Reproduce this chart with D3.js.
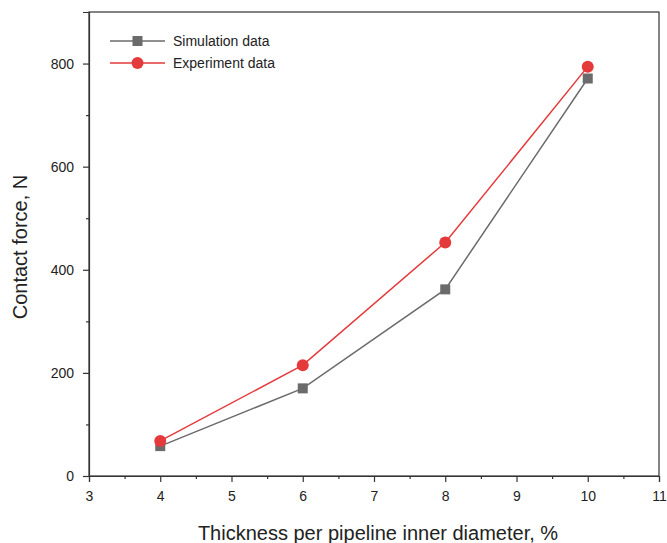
<!DOCTYPE html>
<html>
<head>
<meta charset="utf-8">
<script src="https://cdn.jsdelivr.net/npm/d3@7"></script>
<style>
  body { margin: 0; background: #fff; }
  text { font-family: "Liberation Sans", Arial, sans-serif; fill: #222; }
</style>
</head>
<body>
<div id="chart"></div>
<script>
// data
var thickness = [4, 6, 8, 10];
var simulation = [58, 170, 362, 771];
var experiment = [68, 215, 453, 794];
var xTicks = [3, 4, 5, 6, 7, 8, 9, 10, 11];
var yTicks = [0, 200, 400, 600, 800];

var svgWidth = 667, svgHeight = 543;
var margin = { top: 12, right: 7, bottom: 67, left: 89 };
var width = 659 - margin.left;
var height = 476 - margin.top;

var svg = d3.select("#chart").append("svg").attr("width", svgWidth).attr("height", svgHeight);
var g = svg.append("g").attr("transform", `translate(${margin.left}, ${margin.top})`);

var x = d3.scaleLinear().domain([3, 11]).range([0, width]);
var y = d3.scaleLinear().domain([0, 900]).range([height, 0]);

// frame
g.append("rect").attr("width", width).attr("height", height)
  .attr("fill", "none").attr("stroke", "#333").attr("stroke-width", 1.2);

// minor ticks
var xMinor = d3.range(3.5, 11, 1);
var yMinor = d3.range(100, 900, 200);

var xAxis = g.append("g").attr("transform", `translate(0, ${height})`)
  .call(d3.axisBottom(x).tickValues(xTicks).tickSize(6).tickPadding(9).tickFormat(d3.format("d")));
g.append("g").attr("transform", `translate(0, ${height})`)
  .call(d3.axisBottom(x).tickValues(xMinor).tickSize(3).tickFormat(""))
  .select(".domain").remove();

var yAxis = g.append("g")
  .call(d3.axisLeft(y).tickValues(yTicks).tickSize(6).tickPadding(9));
g.append("g")
  .call(d3.axisLeft(y).tickValues(yMinor).tickSize(3).tickFormat(""))
  .select(".domain").remove();

svg.selectAll(".tick text").style("font-size", "14px").style("font-family", "Liberation Sans, Arial, sans-serif").attr("fill", "#222");
svg.selectAll(".domain, .tick line").attr("stroke", "#333").attr("stroke-width", 1.2);

// axis titles
svg.append("text").attr("x", 378).attr("y", 540).attr("text-anchor", "middle")
  .style("font-size", "20px").text("Thickness per pipeline inner diameter, %");
svg.append("text").attr("transform", "translate(27, 247) rotate(-90)").attr("text-anchor", "middle")
  .style("font-size", "20px").text("Contact force, N");

var simColor = "#6b6b6b", expColor = "#e53a3c";
var line = d3.line().x(d => x(d[0])).y(d => y(d[1]));
var simPts = thickness.map((t, i) => [t, simulation[i]]);
var expPts = thickness.map((t, i) => [t, experiment[i]]);

g.append("path").datum(simPts).attr("d", line).attr("fill", "none").attr("stroke", simColor).attr("stroke-width", 1.5);
g.selectAll("rect.sim").data(simPts).enter().append("rect").attr("class", "sim")
  .attr("x", d => x(d[0]) - 5).attr("y", d => y(d[1]) - 5).attr("width", 10).attr("height", 10).attr("fill", simColor);

g.append("path").datum(expPts).attr("d", line).attr("fill", "none").attr("stroke", expColor).attr("stroke-width", 1.5);
g.selectAll("circle.exp").data(expPts).enter().append("circle").attr("class", "exp")
  .attr("cx", d => x(d[0])).attr("cy", d => y(d[1])).attr("r", 6).attr("fill", expColor);

// legend
var legend = svg.append("g");
legend.append("line").attr("x1", 110).attr("x2", 165).attr("y1", 41).attr("y2", 41).attr("stroke", simColor).attr("stroke-width", 1.5);
legend.append("rect").attr("x", 132.5).attr("y", 36).attr("width", 10).attr("height", 10).attr("fill", simColor);
legend.append("text").attr("x", 173).attr("y", 46).style("font-size", "14px").text("Simulation data");
legend.append("line").attr("x1", 110).attr("x2", 165).attr("y1", 63).attr("y2", 63).attr("stroke", expColor).attr("stroke-width", 1.5);
legend.append("circle").attr("cx", 137.5).attr("cy", 63).attr("r", 6).attr("fill", expColor);
legend.append("text").attr("x", 173).attr("y", 68).style("font-size", "14px").text("Experiment data");
</script>
</body>
</html>
